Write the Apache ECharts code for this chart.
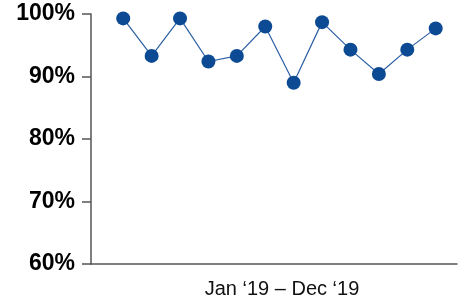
<!DOCTYPE html>
<html>
<head>
<meta charset="utf-8">
<script src="https://cdn.jsdelivr.net/npm/echarts@6/dist/echarts.min.js"></script>
<style>html,body{margin:0;padding:0;background:#fff}#c{width:458px;height:300px}</style>
</head>
<body>
<div id="c"></div>
<script>
const months = ["Jan '19","Feb '19","Mar '19","Apr '19","May '19","Jun '19","Jul '19","Aug '19","Sep '19","Oct '19","Nov '19","Dec '19"];
const values = [99.3, 93.3, 99.3, 92.4, 93.3, 98.0, 89.0, 98.7, 94.3, 90.4, 94.3, 97.7];
const yTicks = [60, 70, 80, 90, 100];
const xAxisTitle = "Jan \u201819 \u2013 Dec \u201819";

const chart = echarts.init(document.getElementById('c'), null, {renderer: 'canvas'});
chart.setOption({
  animation: false,
  grid: {left: 91, right: 1, top: 14, bottom: 36, containLabel: false, outerBoundsMode: 'none'},
  xAxis: {
    type: 'value',
    min: -1.134, max: 11.75,
    name: xAxisTitle,
    nameLocation: 'middle',
    nameGap: 15,
    nameTextStyle: {fontFamily: 'Liberation Sans', fontSize: 20, color: '#111', padding: [0, 0, 0, 16]},
    axisLine: {show: true, onZero: false, lineStyle: {color: '#555', width: 1.5}},
    axisTick: {show: false},
    axisLabel: {show: false},
    splitLine: {show: false}
  },
  yAxis: {
    type: 'value',
    min: yTicks[0], max: yTicks[yTicks.length - 1], interval: 10,
    axisLine: {show: true, onZero: false, lineStyle: {color: '#555', width: 1.5}},
    axisTick: {show: true, length: 9, lineStyle: {color: '#555', width: 1.5}},
    axisLabel: {formatter: '{value}%', fontFamily: 'Liberation Sans', fontWeight: 'bold', fontSize: 23, color: '#000', margin: 16},
    splitLine: {show: false}
  },
  series: [{
    type: 'line',
    data: values.map((v, i) => [i, v]),
    symbol: 'circle',
    symbolSize: 14,
    itemStyle: {color: '#0d4a94'},
    lineStyle: {color: '#2b5fa3', width: 1.2}
  }]
});
</script>
</body>
</html>
